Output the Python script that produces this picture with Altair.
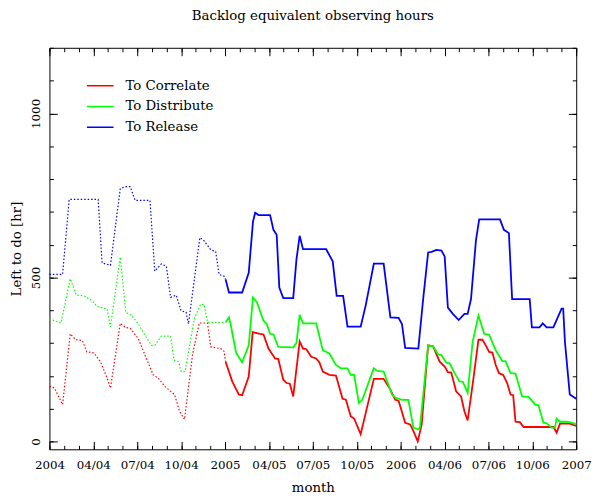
import json
import altair as alt
import pandas as pd

# ---- data (x = months since Jan 2004, y = hours) ----
series_names = ["To Correlate", "To Distribute", "To Release"]
series_colors = ["#ff0000", "#00ff00", "#0000ff"]

correlate_t = [0, 0.34, 0.90, 1.42, 1.80, 2.25, 2.55, 3.04, 3.49, 3.94, 4.17, 4.84, 5.18, 5.52, 6.08,
               6.53, 7.09, 7.43, 7.88, 8.22, 8.55, 8.89, 9.23, 9.79, 10.24, 10.80, 11.03, 11.70, 11.93, 12.04,
               12.49, 12.94, 13.17, 13.62, 13.89, 14.40, 14.63, 14.97, 15.42, 15.64, 15.98, 16.21, 16.43, 16.66, 17.10,
               17.33, 17.56, 17.89, 18.23, 18.45, 18.68, 19.13, 19.58, 20.03, 20.26, 20.59, 20.82, 21.27, 22.17, 22.84,
               23.30, 23.63, 23.86, 24.31, 24.65, 24.87, 25.17, 25.44, 25.88, 26.22, 26.67, 27.01, 27.23, 27.46, 27.79,
               28.13, 28.36, 28.58, 28.92, 29.32, 29.59, 29.82, 30.05, 30.27, 30.50, 30.72, 31.01, 31.28, 31.51, 31.69,
               31.85, 32.14, 32.41, 34.44, 34.66, 34.89, 35.56, 36.0]
correlate_v = [168, 163, 112, 328, 310, 308, 273, 270, 243, 193, 163, 360, 348, 345, 313,
               263, 203, 193, 168, 155, 143, 92, 67, 268, 361, 361, 288, 283, 275, 243,
               183, 143, 141, 198, 333, 328, 326, 283, 253, 251, 188, 178, 176, 137, 305,
               283, 281, 258, 253, 241, 213, 203, 201, 130, 127, 77, 70, 22, 191, 191,
               158, 127, 124, 57, 52, 32, 0, 52, 293, 290, 243, 228, 211, 210, 153,
               137, 92, 64, 173, 310, 310, 293, 273, 271, 233, 208, 203, 178, 143, 141,
               60, 59, 44, 44, 27, 54, 54, 47]

distribute_t = [0, 0.79, 1.42, 1.57, 1.84, 2.36, 2.92, 3.26, 3.94, 4.17, 4.84, 5.22, 5.62, 6.08, 6.53,
                6.97, 7.20, 7.65, 8.28, 8.51, 8.83, 9.00, 9.27, 9.91, 10.35, 10.58, 10.80, 12.04, 12.27, 12.38,
                12.76, 13.17, 13.62, 13.91, 14.18, 14.63, 14.85, 15.08, 15.31, 15.64, 16.66, 16.88, 17.10, 17.33, 18.23,
                18.68, 19.13, 19.58, 19.92, 20.37, 20.59, 20.82, 21.15, 21.38, 22.17, 22.39, 22.84, 23.41, 23.63, 24.09,
                24.53, 24.87, 25.21, 25.32, 25.88, 26.22, 26.56, 26.79, 27.12, 27.35, 27.69, 28.02, 28.25, 28.58, 28.92,
                29.32, 29.71, 30.05, 30.50, 30.95, 31.17, 31.51, 31.85, 32.30, 32.75, 33.20, 33.42, 33.76, 33.98, 34.32,
                34.55, 34.66, 34.89, 35.34, 35.67, 36.0]
distribute_v = [373, 361, 496, 479, 446, 444, 429, 411, 404, 349, 562, 393, 384, 358, 323,
                293, 293, 321, 321, 248, 243, 213, 213, 376, 419, 416, 363, 363, 378, 358,
                270, 241, 293, 439, 424, 368, 358, 328, 326, 288, 287, 300, 386, 360, 360,
                278, 268, 233, 223, 223, 203, 203, 117, 127, 223, 215, 213, 143, 134, 127,
                127, 42, 37, 42, 293, 290, 265, 263, 240, 238, 208, 183, 182, 148, 303,
                384, 328, 325, 278, 245, 245, 208, 207, 137, 136, 112, 110, 57, 55, 42,
                42, 70, 60, 60, 57, 52]

release_t = [0, 0.90, 1.35, 3.33, 3.60, 4.17, 4.84, 5.18, 5.52, 5.85, 6.87, 7.20, 7.65, 7.99, 8.28,
             8.66, 9.00, 9.34, 9.50, 10.28, 10.51, 11.03, 11.36, 11.59, 11.93, 12.04, 12.27, 13.17, 13.62, 13.91,
             14.06, 14.29, 15.08, 15.31, 15.53, 15.71, 15.98, 16.66, 16.88, 17.10, 17.33, 18.91, 19.36, 19.63, 20.07,
             20.37, 21.27, 21.61, 22.17, 22.84, 23.30, 23.86, 24.09, 24.31, 25.21, 25.54, 25.88, 26.11, 26.45, 26.79,
             27.01, 27.23, 27.57, 27.97, 28.36, 28.58, 28.81, 29.15, 29.37, 30.79, 31.06, 31.40, 31.62, 32.82, 32.97,
             33.49, 33.71, 33.98, 34.44, 35.00, 35.11, 35.23, 35.56, 36.0]
release_v = [509, 509, 738, 738, 544, 537, 770, 777, 777, 735, 735, 519, 541, 534, 439,
             446, 398, 394, 358, 621, 615, 584, 579, 509, 504, 494, 454, 454, 514, 670,
             697, 690, 690, 645, 630, 469, 437, 437, 554, 627, 586, 586, 549, 444, 444,
             350, 350, 414, 542, 542, 378, 377, 358, 285, 283, 434, 576, 578, 584, 582,
             564, 408, 389, 370, 389, 389, 434, 614, 677, 677, 645, 635, 434, 434, 348,
             348, 360, 348, 348, 405, 405, 303, 143, 130]

x_major_ticks = list(range(0, 37, 3))
x_minor_ticks = list(range(0, 37))
x_tick_labels = ["2004", "04/04", "07/04", "10/04", "2005", "04/05", "07/05", "10/05",
                 "2006", "04/06", "07/06", "10/06", "2007"]
y_major_ticks = [0, 500, 1000]
y_minor_ticks = list(range(0, 1201, 100))

FONT = "DejaVu Serif"
TEXT_SIZE = 13.5

rows = []
for name, ts, vs in [(series_names[0], correlate_t, correlate_v),
                     (series_names[1], distribute_t, distribute_v),
                     (series_names[2], release_t, release_v)]:
    k = next(i for i, t in enumerate(ts) if t >= 12)
    for i in range(0, k + 1):
        rows.append({"t": ts[i], "v": vs[i], "series": name, "period": "2004"})
    for i in range(k, len(ts)):
        rows.append({"t": ts[i], "v": vs[i], "series": name, "period": "later"})
df = pd.DataFrame(rows)

xscale = alt.Scale(domain=[0, 36], nice=False, zero=False)
yscale = alt.Scale(domain=[-24, 1200], nice=False, zero=False)

label_expr = json.dumps(x_tick_labels) + "[round(datum.value / 3)]"

common_axis = dict(grid=False, domain=False, tickColor="black", labelColor="black",
                   labelFont=FONT, labelFontSize=12, titleFont=FONT, titleFontSize=TEXT_SIZE,
                   titleFontWeight="normal", titleColor="black")


def ax(orient, values, size, labels=False, **kw):
    return alt.Axis(orient=orient, values=values, tickSize=size, offset=-size,
                    labels=labels, **{**common_axis, **kw})


color = alt.Color("series:N",
                  scale=alt.Scale(domain=series_names, range=series_colors),
                  legend=alt.Legend(orient="none", legendX=37, legendY=24, title=None,
                                    symbolType="stroke", symbolSize=729, symbolStrokeWidth=1.5,
                                    symbolDash=[1, 0], labelFont=FONT, labelFontSize=TEXT_SIZE,
                                    labelColor="black", labelOffset=11, rowPadding=0,
                                    padding=0, symbolOffset=0))

base = alt.Chart(df)

solid = base.transform_filter(alt.datum.period == "later").mark_line(strokeWidth=1.8).encode(
    x=alt.X("t:Q", scale=xscale,
            axis=ax("bottom", x_major_ticks, 8, labels=True, title="month",
                    labelExpr=label_expr, labelFlush=False, labelOverlap=False,
                    labelPadding=10, titlePadding=11)),
    y=alt.Y("v:Q", scale=yscale,
            axis=ax("left", y_major_ticks, 8, labels=True, title="Left to do [hr]",
                    format="d", labelAngle=270, labelAlign="center", labelBaseline="bottom",
                    labelPadding=7, titlePadding=6)),
    color=color,
    detail="series:N",
)

dotted = base.transform_filter(alt.datum.period == "2004").mark_line(
    strokeWidth=1.2, strokeDash=[1.5, 2]).encode(
    x=alt.X("t:Q", scale=xscale, axis=None),
    y=alt.Y("v:Q", scale=yscale, axis=None),
    color=alt.Color("series:N", scale=alt.Scale(domain=series_names, range=series_colors), legend=None),
    detail="series:N",
)


def ghost(xaxis, yaxis):
    return base.mark_point(opacity=0).encode(
        x=alt.X("t:Q", scale=xscale, axis=xaxis),
        y=alt.Y("v:Q", scale=yscale, axis=yaxis),
    )


g1 = ghost(ax("bottom", x_minor_ticks, 4, title=None), ax("left", y_minor_ticks, 4, title=None))
g2 = ghost(ax("top", x_major_ticks, 8, title=None), ax("right", y_major_ticks, 8, title=None))
g3 = ghost(ax("top", x_minor_ticks, 4, title=None), ax("right", y_minor_ticks, 4, title=None))

chart = alt.layer(solid, dotted, g1, g2, g3).resolve_axis(
    x="independent", y="independent"
).properties(
    width=534, height=407,
    padding={"left": 42, "top": 37, "right": 16, "bottom": 44},
    autosize=alt.AutoSizeParams(type="none"),
    title=alt.TitleParams("Backlog equivalent observing hours", font=FONT, fontSize=TEXT_SIZE,
                          fontWeight="normal", color="black", offset=25, anchor="middle"),
).configure_view(stroke="black", strokeWidth=1)

chart.save("out.html", embed_options={"renderer": "svg", "actions": False})
